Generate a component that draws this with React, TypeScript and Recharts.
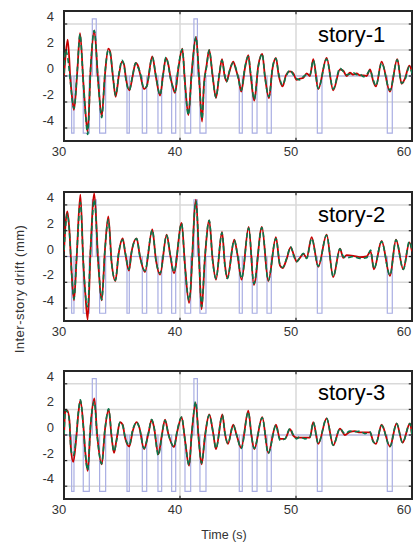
import React from "react";
import {
  CartesianGrid,
  Line,
  LineChart,
  ReferenceArea,
  ReferenceLine,
  XAxis,
  YAxis,
} from "recharts";

// time axis ticks and drift ticks
const xTicks = [30, 40, 50, 60];
const yTicks = [-4, -2, 0, 2, 4];

// on/off control pulses (same in every story)
const pulseStart = [30.66, 31.66, 32.44, 33.07, 35.43, 36.75, 38.1, 39.28, 40.43, 41.2, 41.72, 45.11, 46.23, 47.5, 51.84, 57.87];
const pulseEnd = [30.86, 32.18, 32.78, 33.59, 35.63, 37.13, 38.42, 39.63, 40.92, 41.5, 42.24, 45.37, 46.64, 47.87, 52.24, 58.3];
const pulseLevel = [-4.4, -4.4, 4.4, -4.4, -4.4, -4.4, -4.4, -4.4, -4.4, 4.4, -4.4, -4.4, -4.4, -4.4, -4.4, -4.4];

// story-1
const time1 = [30, 30.14, 30.32, 30.57, 30.75, 30.86, 31.15, 31.38, 31.67, 31.9, 32.04, 32.3, 32.61, 32.96, 33.25, 33.53, 33.82, 33.97, 34.25, 34.45, 34.74, 35, 35.17, 35.34, 35.63, 35.92, 36.18, 36.41, 36.55, 36.9, 37.13, 37.61, 37.93, 38.28, 38.56, 38.79, 38.99, 39.2, 39.37, 39.57, 39.86, 40.2, 40.43, 40.72, 41.01, 41.38, 41.67, 41.9, 42.06, 42.29, 42.52, 42.81, 43.1, 43.39, 43.62, 43.85, 44.02, 44.25, 44.59, 44.82, 45.05, 45.28, 45.6, 45.89, 46.09, 46.4, 46.75, 47.09, 47.32, 47.67, 47.98, 48.27, 48.5, 48.85, 49.13, 49.48, 49.77, 50.05, 50.34, 50.63, 50.92, 51.2, 51.49, 51.92, 52.64, 53.21, 53.79, 54.08, 54.36, 54.65, 54.94, 55.23, 55.51, 55.8, 56.09, 56.38, 56.66, 56.89, 57.38, 58.1, 58.73, 59.1, 59.39, 59.77, 60];
const green1 = [0.2, 2.0, 1.4, -0.6, -2.1, -2.5, 0.5, 3.2, -0.6, -3.4, -4.5, 0.7, 3.5, -0.6, -3.2, 0.2, 2.0, 1.8, -0.3, -1.5, 0.2, 1.2, 0.85, -0.3, -1.1, 0.1, 1.0, 0.6, 0.3, -0.95, -0.8, 1.45, 0.0, -1.45, 0.2, 1.45, 0.85, -0.3, -0.8, -1.2, 0.7, 2.05, -0.6, -3.0, 0.2, 3.0, -0.6, -3.3, -0.8, 0.7, 2.0, -0.05, -1.65, 0.2, 1.2, 0.1, -0.45, 0.35, 1.0, 0.6, -0.3, -1.1, 0.7, 1.5, 0.2, -1.8, 0.7, 1.7, -0.05, -1.6, 0.7, 1.35, 0.2, -0.7, -0.05, 0.45, 0.1, -0.2, -0.3, -0.05, 0.1, 0.1, 1.2, -0.95, 1.3, -1.0, 0.6, 0.35, 0.1, 0.15, 0.25, 0.1, 0.15, -0.05, 0.1, 0.45, -0.3, -0.75, 1.0, -1.1, 1.25, -0.55, -0.3, 0.7, 0.2];
const red1 = [0.0, 1.6, 2.8, -0.5, -2.0, -2.6, 0.4, 3.3, -0.5, -3.3, -4.3, 0.6, 3.5, -0.6, -3.1, 0.1, 2.1, 1.9, -0.3, -1.6, 0.1, 1.1, 0.9, -0.2, -1.1, 0.0, 1.0, 0.7, 0.2, -1.0, -0.8, 1.5, -0.1, -1.5, 0.2, 1.4, 0.9, -0.2, -0.8, -1.3, 0.6, 2.1, -0.5, -3.0, 0.3, 3.0, -0.5, -3.5, -0.7, 0.8, 2.0, 0.05, -1.7, 0.1, 1.3, 0.0, -0.4, 0.3, 1.1, 0.5, -0.2, -1.2, 0.6, 1.6, 0.1, -1.9, 0.8, 1.7, 0.0, -1.7, 0.6, 1.4, 0.1, -0.8, 0.05, 0.35, 0.2, -0.3, -0.2, -0.15, 0.2, 0.0, 1.3, -1.0, 1.4, -1.1, 0.5, 0.4, 0.0, 0.25, 0.1, 0.2, 0.05, 0.05, 0.0, 0.5, -0.4, -0.8, 1.1, -1.2, 1.3, -0.6, -0.2, 0.8, 0.3];

// story-2
const time2 = [30, 30.14, 30.29, 30.46, 30.66, 30.86, 31.09, 31.41, 31.67, 31.84, 32.04, 32.3, 32.61, 32.96, 33.25, 33.53, 33.82, 34.11, 34.43, 34.71, 35.06, 35.29, 35.6, 35.83, 36.26, 36.55, 36.98, 37.61, 37.93, 38.28, 38.85, 39.14, 39.48, 40.14, 40.43, 40.78, 41.38, 41.67, 41.86, 42.15, 42.52, 42.81, 43.1, 43.62, 43.88, 44.08, 44.68, 44.94, 45.31, 45.92, 46.37, 47.06, 47.61, 48.27, 48.62, 48.85, 49.19, 49.54, 49.82, 50.05, 50.34, 50.63, 50.92, 51.35, 51.92, 52.64, 53.21, 53.79, 54.08, 54.36, 54.94, 55.51, 56.09, 56.43, 56.72, 57.38, 58.1, 58.62, 59.25, 59.77, 60];
const green2 = [0.5, 2.4, 3.3, 2.0, -1.3, -3.3, 0.0, 4.2, -0.5, -2.9, -3.9, 0.75, 4.4, -0.55, -3.35, 0.5, 2.85, -0.55, -1.85, 0.25, 1.3, 0.25, -1.0, 0.35, 1.4, 0.0, -1.1, 2.05, -0.3, -1.3, 1.65, 0.25, -1.2, 2.55, -0.8, -3.4, 4.3, -0.8, -3.9, 0.0, 2.8, -0.3, -1.7, 1.85, -0.8, -1.7, 1.25, 0.25, -1.7, 2.2, -2.1, 2.25, -1.85, 1.4, -0.65, -0.85, -0.15, 0.75, 0.0, -0.4, -0.1, 0.25, -0.15, 1.4, -0.75, 1.65, -1.55, 0.6, 0.0, -0.1, 0.0, -0.15, -0.1, 0.5, -0.95, 1.15, -1.45, 1.3, -1.0, 1.15, 0.5];
const red2 = [0.4, 2.6, 3.5, 2.1, -1.3, -3.4, -0.1, 4.8, -0.6, -2.9, -4.9, 0.7, 4.9, -0.6, -3.4, 0.5, 3.1, -0.5, -1.9, 0.2, 1.4, 0.2, -1.1, 0.4, 1.4, 0.0, -1.2, 2.1, -0.3, -1.4, 1.7, 0.2, -1.3, 2.6, -0.7, -3.6, 4.4, -0.8, -4.1, -0.1, 2.8, -0.2, -1.8, 1.9, -0.7, -1.7, 1.3, 0.2, -1.8, 2.3, -2.2, 2.3, -1.9, 1.5, -0.7, -0.9, -0.2, 0.7, 0.1, -0.4, -0.1, 0.2, -0.1, 1.5, -0.8, 1.7, -1.6, 0.6, -0.1, 0.1, 0.05, -0.05, 0.0, 0.4, -1.0, 1.2, -1.5, 1.3, -1.0, 1.1, 0.4];

// story-3
const time3 = [30, 30.11, 30.29, 30.46, 30.6, 30.8, 31.03, 31.24, 31.41, 31.67, 31.84, 32.04, 32.3, 32.61, 32.87, 33.25, 33.53, 33.85, 34.11, 34.31, 34.54, 34.83, 35.06, 35.26, 35.63, 35.92, 36.26, 36.49, 36.9, 37.27, 37.56, 37.76, 38.13, 38.42, 38.71, 38.99, 39.48, 39.77, 40.14, 40.43, 40.78, 41.01, 41.35, 41.64, 41.86, 42.15, 42.52, 42.87, 43.1, 43.65, 43.88, 44.13, 44.59, 44.88, 45.28, 45.89, 46.17, 46.4, 47.09, 47.61, 48.27, 48.62, 49.05, 49.48, 49.77, 50.05, 50.34, 50.77, 51.2, 51.49, 51.92, 52.64, 53.21, 53.79, 54.22, 54.65, 55.08, 55.51, 55.94, 56.38, 56.66, 56.89, 57.38, 58.1, 58.67, 59.19, 59.82, 60];
const green3 = [0.0, 1.95, 1.8, 1.15, -1.2, -1.6, -0.4, 1.8, 2.75, 0.6, -1.45, -2.75, 0.9, 2.6, -0.15, -2.25, 0.4, 2.05, -0.15, -1.3, -0.4, 1.0, 0.75, -0.15, -0.8, 0.4, 1.0, 0.6, -1.05, 0.1, 1.2, 0.6, -1.6, -0.15, 1.15, 0.1, -0.9, 0.4, 1.4, -0.4, -2.35, 0.1, 2.6, -0.65, -2.2, -0.15, 1.55, 0.1, -1.05, 1.55, 0.1, -0.65, 0.75, 0.0, -1.05, 1.8, -0.15, -1.05, 1.35, -1.45, 0.75, -0.4, -0.3, 0.5, 0.0, -0.3, -0.15, -0.3, -0.15, 1.0, -0.65, 1.3, -0.8, 0.5, 0.1, 0.3, 0.25, 0.3, 0.1, 0.25, -0.55, -0.65, 0.75, -0.9, 0.9, -0.6, 0.9, 0.0];
const red3 = [-0.1, 1.8, 1.9, 1.2, -1.1, -2.1, -0.5, 1.7, 2.7, 0.7, -1.4, -2.8, 0.8, 2.85, -0.1, -2.3, 0.4, 2.0, -0.2, -1.4, -0.3, 1.0, 0.8, -0.2, -0.9, 0.3, 1.0, 0.6, -1.1, 0.1, 1.2, 0.6, -1.5, -0.1, 1.2, 0.1, -0.95, 0.3, 1.4, -0.4, -2.4, 0.1, 2.5, -0.6, -2.3, -0.1, 1.6, 0.1, -1.1, 1.6, 0.1, -0.7, 0.8, 0.0, -1.0, 1.9, -0.1, -1.1, 1.4, -1.4, 0.8, -0.3, -0.3, 0.45, -0.05, -0.2, -0.2, -0.2, -0.2, 1.0, -0.7, 1.3, -0.8, 0.5, 0.0, 0.25, 0.3, 0.2, 0.2, 0.2, -0.5, -0.7, 0.8, -0.9, 0.9, -0.6, 0.9, 0.0];

const FONT = "'Liberation Sans', Arial, sans-serif";
const RED = "#c80000";
const GREEN = "#08784c";
const PULSE = "#a9aee3";
const FRAME = "#262626";

const toSeries = (t: number[], v: number[]) => t.map((x, i) => ({ t: x, v: v[i] }));

function pulseSeries() {
  const pts = [{ t: 30, v: 0 }];
  pulseStart.forEach((s, i) => {
    pts.push({ t: s, v: 0 }, { t: s, v: pulseLevel[i] }, { t: pulseEnd[i], v: pulseLevel[i] }, { t: pulseEnd[i], v: 0 });
  });
  pts.push({ t: 60, v: 0 });
  return pts;
}

const XTick = (props: any) => (
  <text x={props.x - 5} y={props.y + 15} textAnchor="middle" fontSize={13} fontFamily={FONT} fill="#333">
    {props.payload.value}
  </text>
);

const YTick = (props: any) => (
  <text x={props.x - 10} y={props.y - 3} textAnchor="end" fontSize={13} fontFamily={FONT} fill="#333">
    {props.payload.value}
  </text>
);

interface PanelProps {
  top: number;
  height: number;
  marginTop: number;
  time: number[];
  green: number[];
  red: number[];
}

function Panel({ top, height, marginTop, time, green, red }: PanelProps) {
  return (
    <div style={{ position: "absolute", left: 0, top }}>
      <LineChart width={417} height={height} margin={{ top: marginTop, right: 5, bottom: 0, left: 0 }}>
        <CartesianGrid stroke="#d9d9d9" strokeWidth={1.5} />
        <XAxis
          dataKey="t"
          type="number"
          domain={[30, 60]}
          ticks={xTicks}
          allowDataOverflow
          height={24}
          axisLine={false}
          tickLine={false}
          tickSize={0}
          tickMargin={0}
          tick={<XTick />}
        />
        <YAxis
          type="number"
          domain={[-5, 5]}
          ticks={yTicks}
          allowDataOverflow
          width={64}
          axisLine={false}
          tickLine={false}
          tickSize={0}
          tickMargin={0}
          tick={<YTick />}
        />
        <Line data={pulseSeries()} dataKey="v" type="linear" stroke={PULSE} strokeWidth={1.2} dot={false} isAnimationActive={false} />
        <Line data={toSeries(time, red)} dataKey="v" type="monotone" stroke={RED} strokeWidth={1.8} dot={false} isAnimationActive={false} />
        <Line data={toSeries(time, green)} dataKey="v" type="monotone" stroke={GREEN} strokeWidth={1.6} strokeDasharray="5 3" dot={false} isAnimationActive={false} />
        {xTicks.slice(1, -1).map((x) => (
          <ReferenceLine key={"b" + x} segment={[{ x, y: -5 }, { x, y: -4.75 }]} stroke={FRAME} strokeWidth={1.2} />
        ))}
        {xTicks.slice(1, -1).map((x) => (
          <ReferenceLine key={"t" + x} segment={[{ x, y: 5 }, { x, y: 4.75 }]} stroke={FRAME} strokeWidth={1.2} />
        ))}
        {yTicks.map((y) => (
          <ReferenceLine key={"l" + y} segment={[{ x: 30, y }, { x: 30.28, y }]} stroke={FRAME} strokeWidth={1.2} />
        ))}
        {yTicks.map((y) => (
          <ReferenceLine key={"r" + y} segment={[{ x: 60, y }, { x: 59.72, y }]} stroke={FRAME} strokeWidth={1.2} />
        ))}
        <ReferenceArea x1={30} x2={60} y1={-5} y2={5} fill="none" fillOpacity={0} stroke={FRAME} strokeWidth={2} />
      </LineChart>
    </div>
  );
}

export default function App() {
  return (
    <div style={{ position: "fixed", left: 0, top: 0, width: 417, height: 545, background: "#fff" }}>
      <Panel top={0} height={165} marginTop={11} time={time1} green={green1} red={red1} />
      <Panel top={180} height={165} marginTop={12} time={time2} green={green2} red={red2} />
      <Panel top={360} height={163} marginTop={11} time={time3} green={green3} red={red3} />
      <svg width={417} height={545} style={{ position: "absolute", left: 0, top: 0, pointerEvents: "none" }}>
        <text x={318} y={41.5} fontSize={22} fontFamily={FONT} fill="#000">story-1</text>
        <text x={318} y={222} fontSize={22} fontFamily={FONT} fill="#000">story-2</text>
        <text x={318} y={400} fontSize={22} fontFamily={FONT} fill="#000">story-3</text>
        <text
          x={19}
          y={289}
          transform="rotate(-90 19 289)"
          textAnchor="middle"
          dominantBaseline="central"
          fontSize={13}
          letterSpacing={0.5}
          fontFamily={FONT}
          fill="#333"
        >
          Inter-story drift (mm)
        </text>
        <text x={224} y={539} textAnchor="middle" fontSize={12.5} fontFamily={FONT} fill="#333">
          Time (s)
        </text>
      </svg>
    </div>
  );
}
